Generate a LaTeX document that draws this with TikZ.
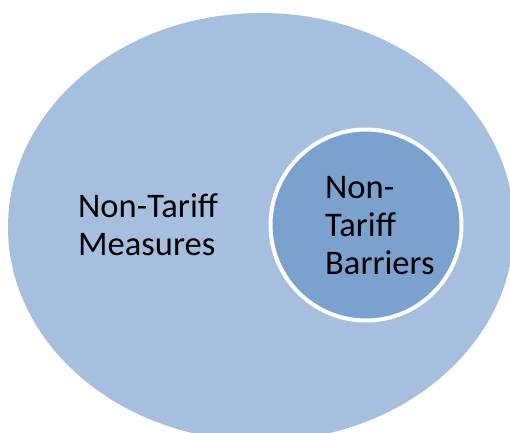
\documentclass[tikz,border=0pt]{standalone}
\usepackage{fontspec}
\setmainfont{Carlito}
\usepackage{tikz}
\usetikzlibrary{shapes.geometric}
\definecolor{measurefill}{HTML}{A7BFDE}
\definecolor{barrierfill}{HTML}{7BA1CE}
\tikzset{
	setlabel/.style={align=left,text=black,font=\fontsize{34.5}{38}\selectfont,inner sep=0pt}
}
\begin{document}
\begin{tikzpicture}[x=1pt,y=-1pt]
	\useasboundingbox (0,0) rectangle (510,432);
	\clip (0,0) rectangle (510,432);
	\node[ellipse,fill=measurefill,minimum width=506pt,minimum height=428pt,inner sep=0pt] (measures) at (261,227) {};
	
	\node[circle,fill=barrierfill,draw=white,line width=4pt,minimum size=191pt,inner sep=0pt] (barriers) at (366,225) {};
	
	\node[setlabel,anchor=west] (measures_text) at (78,225) {Non-Tariff\\Measures};
	
	\node[setlabel,anchor=west] (barriers_text) at (325,226) {Non-\\Tariff\\Barriers};
\end{tikzpicture}
\end{document}
